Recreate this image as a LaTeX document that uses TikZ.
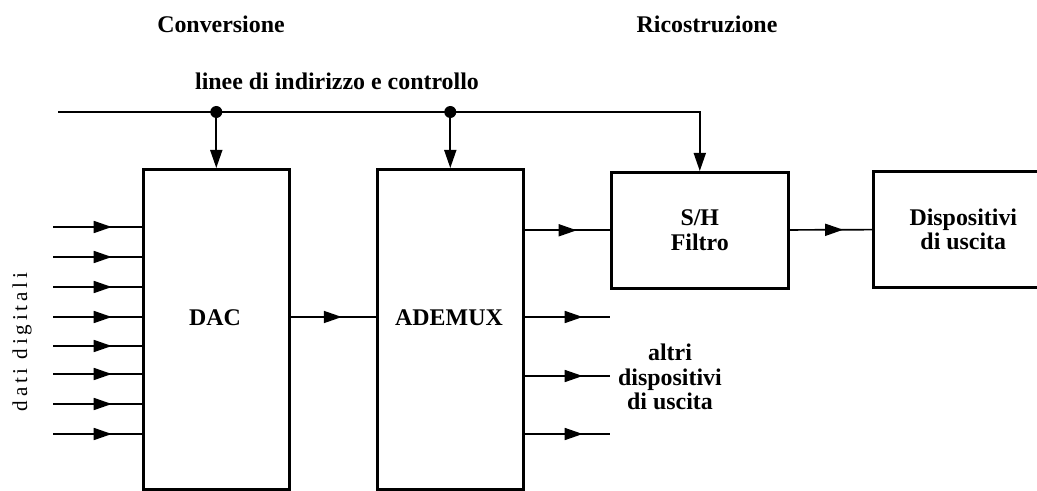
\documentclass[tikz,border=0pt]{standalone}
\usepackage{fontspec}
\setmainfont{Liberation Serif}
\usetikzlibrary{arrows.meta,decorations.markings}

\tikzset{
  blk/.style={draw, line width=1.8pt, inner sep=0pt},
  txt/.style={font=\fontsize{17}{17.5}\selectfont\bfseries, align=center},
  wire/.style={line width=1.2pt},
  midarr/.style={wire, postaction={decorate},
    decoration={markings, mark=at position #1 with {\arrow{Triangle[length=4.5mm,width=3mm]}}}},
  downarr/.style={wire, -{Triangle[length=4.5mm,width=3mm]}},
  bdot/.style={circle, fill, inner sep=0pt, minimum size=3mm},
}

\begin{document}
\begin{tikzpicture}[x=0.025cm, y=-0.025cm]
  \useasboundingbox (0,0) rectangle (1037,491);
  \clip (0,0) rectangle (1037,491);

  % titles
  \node[txt] (conv) at (221,24) {Conversione};
  \node[txt] (ricos) at (707,24) {Ricostruzione};
  \node[txt] (linee) at (337,81) {linee di indirizzo e controllo};

  % blocks
  \node[blk, minimum width=3.65cm, minimum height=8cm, anchor=north west] (dac) at (142,168) {};
  \node[blk, minimum width=3.65cm, minimum height=8cm, anchor=north west] (ademux) at (376,168) {};
  \node[txt] (daclbl) at (215,318) {DAC};
  \node[txt] (ademuxlbl) at (449,318) {ADEMUX};
  \node[blk, txt, minimum width=4.425cm, minimum height=2.9cm, anchor=north west] (sh) at (610,171) {S/H\\Filtro};
  \node[blk, txt, minimum width=4.5cm, minimum height=2.9cm, anchor=north west] (disp) at (872,170) {Dispositivi\\di uscita};

  % bus
  \coordinate (busL) at (58,112);
  \node[bdot] (d1) at (dac.north |- busL) {};
  \node[bdot] (d2) at (ademux.north |- busL) {};
  \draw[downarr] (busL) -- (busL -| sh.north) -- (sh.north);
  \draw[downarr] (d1.center) -- (dac.north);
  \draw[downarr] (d2.center) -- (ademux.north);

  % digital inputs
  \foreach \y [count=\i] in {227,257,287,317,346,374,404,434} {
    \coordinate (in\i) at (53,\y);
    \draw[midarr=0.66] (in\i) -- (in\i -| dac.west);
  }
  \node[font=\fontsize{15}{15}\selectfont\addfontfeature{LetterSpace=18}, rotate=90] (dati) at (22,342) {dati digitali};

  \draw[midarr=0.6] (dac.east |- in4) -- (ademux.west |- in4);

  % outputs
  \foreach \y [count=\i] in {317,376,434} {
    \coordinate (out\i) at (610,\y);
    \draw[midarr=0.68] (out\i -| ademux.east) -- (out\i);
  }
  \node[txt] (altri) at (670,377) {altri\\dispositivi\\di uscita};

  \draw[midarr=0.61] (ademux.east |- sh.west) -- (sh.west);
  \draw[midarr=0.65] (sh) -- (disp);
\end{tikzpicture}
\end{document}
